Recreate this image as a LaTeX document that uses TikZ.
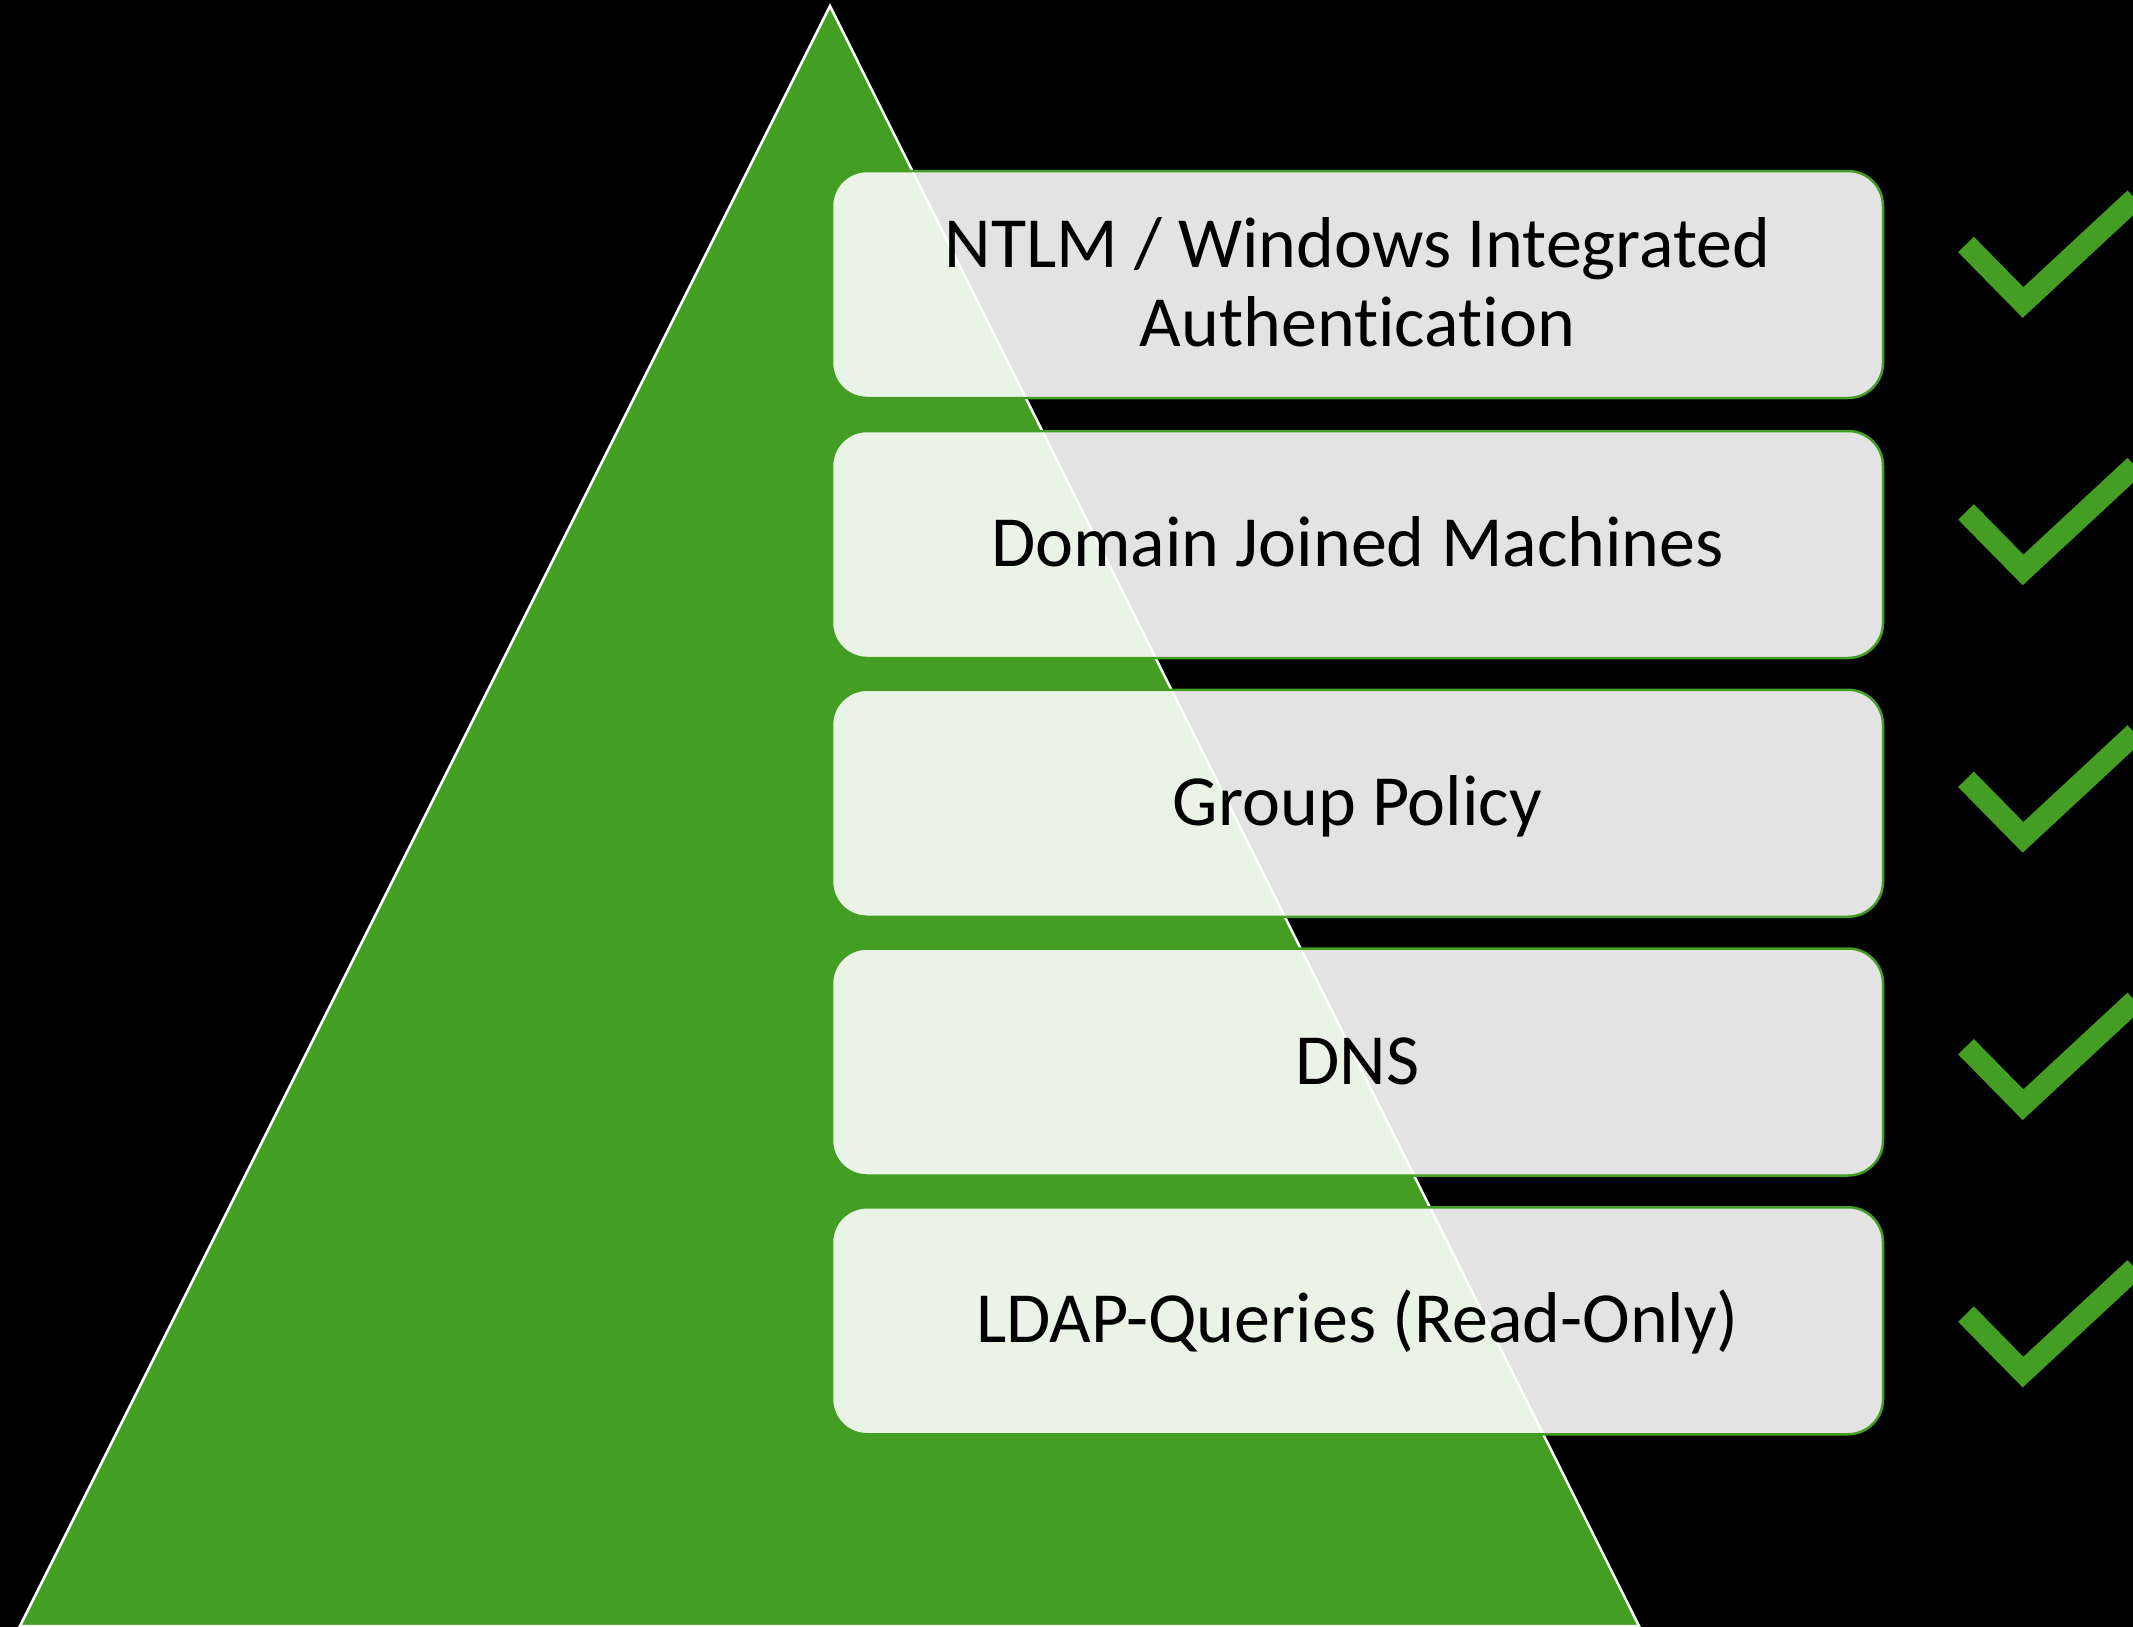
\documentclass[tikz,border=0pt]{standalone}
\usepackage{fontspec}
\setmainfont[Ligatures={NoCommon}]{Carlito}
\definecolor{pgreen}{RGB}{68,158,36}
\begin{document}
\begin{tikzpicture}[x=1pt,y=-1pt,
  item/.style={draw=pgreen, line width=2.5pt, fill=white, fill opacity=0.89,
    rounded corners=35pt, minimum width=1051pt, minimum height=227pt, inner sep=0pt},
  lbl/.style={font=\fontsize{72}{79}\selectfont, text=black, anchor=base, inner sep=0pt},
  tick/.style={draw=pgreen, line width=22pt, line cap=butt, line join=miter}]
\fill[black] (0,0) rectangle (2133,1627);
\useasboundingbox (0,0) rectangle (2133,1627);
\coordinate (apex) at (830,6);
\coordinate (bl) at (20,1626);
\coordinate (br) at (1639,1626);
\draw[white, line width=2.5pt, fill=pgreen] (apex) -- (br) -- (bl) -- cycle;
\node[item] (b1) at (1357.5,284.5) {};
\node[item] (b2) at (1357.5,544.5) {};
\node[item] (b3) at (1357.5,803.25) {};
\node[item] (b4) at (1357.5,1062) {};
\node[item] (b5) at (1357.5,1320.75) {};
\node[lbl] (t1a) at ([yshift=17pt]b1.center) {NTLM / Windows Integrated};
\node[lbl] (t1b) at ([yshift=-62pt]b1.center) {Authentication};
\node[lbl] (t2) at ([yshift=-22pt]b2.center) {Domain Joined Machines};
\node[lbl] (t3) at ([yshift=-22pt]b3.center) {Group Policy};
\node[lbl] (t4) at ([yshift=-22pt]b4.center) {DNS};
\node[lbl] (t5) at ([yshift=-22pt]b5.center) {LDAP-Queries (Read-Only)};
\foreach \i in {0,...,4}{
  \coordinate (k\i) at (2023,{302.5+267.4*\i});
  \draw[tick] ([shift={(-57,-58)}]k\i) -- (k\i) -- ([shift={(112,-104)}]k\i);
}
\end{tikzpicture}
\end{document}
